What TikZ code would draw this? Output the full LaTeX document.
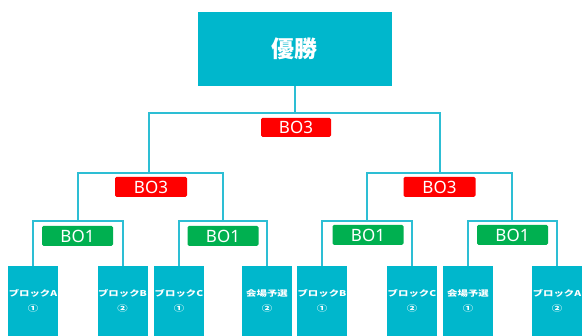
\documentclass[tikz,border=0pt]{standalone}
\usepackage{fontspec}
\setmainfont{Noto Sans}
\newfontfamily\jp{Noto Sans CJK JP}
\newfontfamily\jpw[FakeStretch=1.3]{Noto Sans CJK JP}
\definecolor{boxc}{RGB}{0,183,204}
\definecolor{linec}{RGB}{45,190,212}
\definecolor{boc}{RGB}{255,0,0}
\definecolor{bgc}{RGB}{0,176,80}
\tikzset{
  wire/.style={draw=linec, line width=2pt},
  team/.style={fill=boxc, draw=none, minimum width=50pt, minimum height=70pt, anchor=north, inner sep=0pt, text=white, align=center, font=\jpw\bfseries\fontsize{8}{15}\selectfont},
  red/.style={fill=boc, rounded corners=1.5pt, minimum width=71pt, minimum height=20pt, inner sep=0pt, text=white, font=\fontsize{17}{17}\selectfont},
  grn/.style={fill=bgc, rounded corners=1.5pt, minimum width=71pt, minimum height=20pt, inner sep=0pt, text=white, font=\fontsize{17}{17}\selectfont},
}
\begin{document}
\begin{tikzpicture}[x=1pt, y=-1pt]
\useasboundingbox (0,0) rectangle (582,336);
\node[fill=boxc, minimum width=194pt, minimum height=74pt, inner sep=0pt, text=white, font=\jp\bfseries\fontsize{23}{23}\selectfont] (win) at (294.5,49) {優勝};
% bottom boxes
\node[team] (b1) at (33,266) {ブロックA\\①};
\node[team] (b2) at (122.5,266) {ブロックB\\②};
\node[team] (b3) at (179,266) {ブロックC\\①};
\node[team] (b4) at (267,266) {会場予選\\②};
\node[team] (b5) at (322,266) {ブロックB\\①};
\node[team] (b6) at (412,266) {ブロックC\\②};
\node[team] (b7) at (468,266) {会場予選\\①};
\node[team] (b8) at (557,266) {ブロックA\\②};
% junctions
\coordinate (m31) at (78,221);
\coordinate (m32) at (223,221);
\coordinate (m33) at (367,221);
\coordinate (m34) at (512,221);
\coordinate (m21) at (149,173);
\coordinate (m22) at (440,173);
\coordinate (m1) at (294.5,113);
\draw[wire] (b1.north) |- (m31) -| (b2.north);
\draw[wire] (b3.north) |- (m32) -| (b4.north);
\draw[wire] (b5.north) |- (m33) -| (b6.north);
\draw[wire] (b7.north) |- (m34) -| (b8.north);
\draw[wire] (m31) |- (m21) -| (m32);
\draw[wire] (m33) |- (m22) -| (m34);
\draw[wire] (m21) |- (m1) -| (m22);
\draw[wire] (m1) -- (win.south);
% labels
\node[red, minimum width=70pt, minimum height=19pt] (r0) at (296,127.5) {BO3};
\node[red, minimum width=72pt] (r1) at (151,187) {BO3};
\node[red, minimum width=72pt] (r2) at (439.5,187) {BO3};
\node[grn] (g1) at (77.5,236) {BO1};
\node[grn] (g2) at (223,236) {BO1};
\node[grn] (g3) at (368,235) {BO1};
\node[grn] (g4) at (512.5,235) {BO1};
\end{tikzpicture}
\end{document}
